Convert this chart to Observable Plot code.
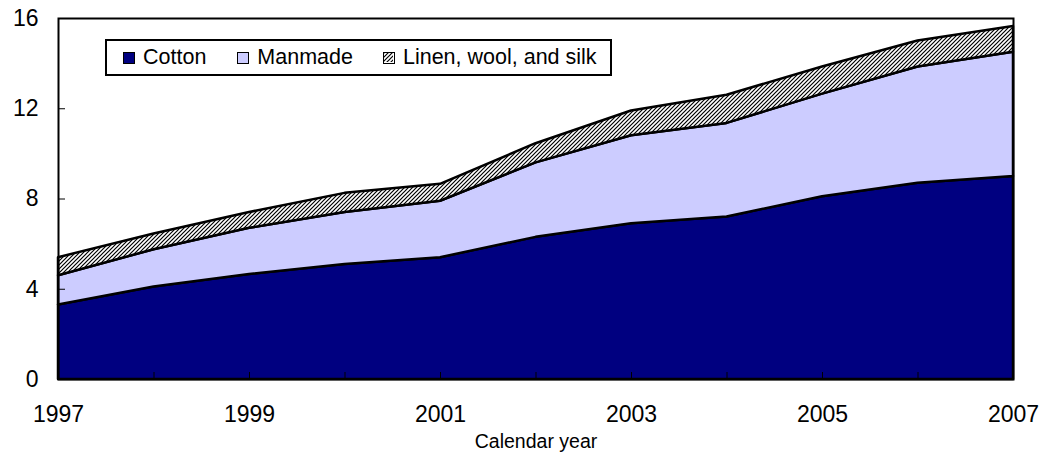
<!DOCTYPE html>
<html><head><meta charset="utf-8">
<script src="https://cdn.jsdelivr.net/npm/d3@7"></script>
<script src="https://cdn.jsdelivr.net/npm/@observablehq/plot@0.6"></script>
<style>
body{margin:0;background:#fff;font-family:"Liberation Sans",Arial,sans-serif;}
#wrap{position:relative;width:1054px;height:452px;}
#legend{position:absolute;left:105px;top:39px;width:507px;height:37px;border:2px solid #000;box-sizing:border-box;background:#fff;display:flex;align-items:center;font-size:21.5px;color:#000;}
.item{display:flex;align-items:center;}
.sw{width:12px;height:12px;border:1.5px solid #000;box-sizing:border-box;margin-right:8px;display:inline-block;}
</style></head>
<body>
<div id="wrap">
<svg width="0" height="0" style="position:absolute">
<defs>
<pattern id="hatch" patternUnits="userSpaceOnUse" width="4" height="4">
<rect width="4" height="4" fill="#fff"/>
<path d="M-1,1 l2,-2 M0,4 l4,-4 M3,5 l2,-2" stroke="#000" stroke-width="1.2"/>
</pattern>
</defs>
</svg>
<div id="chart"></div>
<div id="legend"></div>
</div>
<script>
const years = [1997,1998,1999,2000,2001,2002,2003,2004,2005,2006,2007];
const cotton = [3.3,4.1,4.65,5.1,5.4,6.3,6.9,7.2,8.1,8.7,9.0];
const manmade = [1.3,1.65,2.05,2.3,2.5,3.3,3.9,4.15,4.55,5.15,5.5];
const linenWoolSilk = [0.8,0.7,0.7,0.85,0.75,0.85,1.1,1.25,1.2,1.15,1.15];
const seriesNames = ["Cotton","Manmade","Linen, wool, and silk"];
const seriesFills = ["#000080","#CCCCFF","url(#hatch)"];
const xTickLabels = [1997,1999,2001,2003,2005,2007];
const yTicks = [0,4,8,12,16];
const xLabel = "Calendar year";

const seriesValues = [cotton, manmade, linenWoolSilk];
const rows = [];
seriesNames.forEach((s, i) => years.forEach((yr, j) => rows.push({series: s, year: yr, value: seriesValues[i][j]})));

const chart = Plot.plot({
  width: 1054, height: 452,
  marginLeft: 58, marginRight: 41, marginTop: 18, marginBottom: 73,
  style: {fontFamily: "'Liberation Sans', Arial, sans-serif", fontSize: "23px", color: "#000", background: "#fff", overflow: "visible"},
  x: {domain: [1997, 2007], label: null},
  y: {domain: [0, 16], label: null},
  color: {domain: seriesNames, range: seriesFills},
  marks: [
    Plot.areaY(rows, {x: "year", y: "value", z: "series", fill: "series", order: seriesNames, stroke: "#000", strokeWidth: 2.5, strokeLinejoin: "round"}),
    Plot.frame({stroke: "#000", strokeWidth: 2}),
    Plot.axisX({ticks: years, tickSize: 7, dy: -7, text: null, label: null, strokeWidth: 1}),
    Plot.axisX({ticks: xTickLabels, tickSize: 0, tickPadding: 26, tickFormat: d => String(d), fontSize: 23, label: null}),
    Plot.axisX({ticks: [], tickSize: 0, text: null, fontSize: 19.5,
      label: xLabel, labelAnchor: "center", labelArrow: "none", labelOffset: 68}),
    Plot.axisY({ticks: yTicks, tickSize: 7, dx: 7, text: null, label: null}),
    Plot.axisY({ticks: yTicks, tickSize: 0, tickPadding: 20, fontSize: 23, label: null})
  ]
});
document.getElementById("chart").appendChild(chart);

const legend = d3.select("#legend");
const margins = [16, 31, 30];
seriesNames.forEach((s, i) => {
  const it = legend.append("div").attr("class", "item").style("margin-left", margins[i] + "px");
  it.append("span").attr("class", "sw").style("background", i === 2 ? "none" : seriesFills[i])
    .html(i === 2 ? '<svg width="9" height="9" style="display:block"><rect width="9" height="9" fill="url(#hatch)"/></svg>' : "");
  it.append("span").text(s);
});
</script>
</body></html>
